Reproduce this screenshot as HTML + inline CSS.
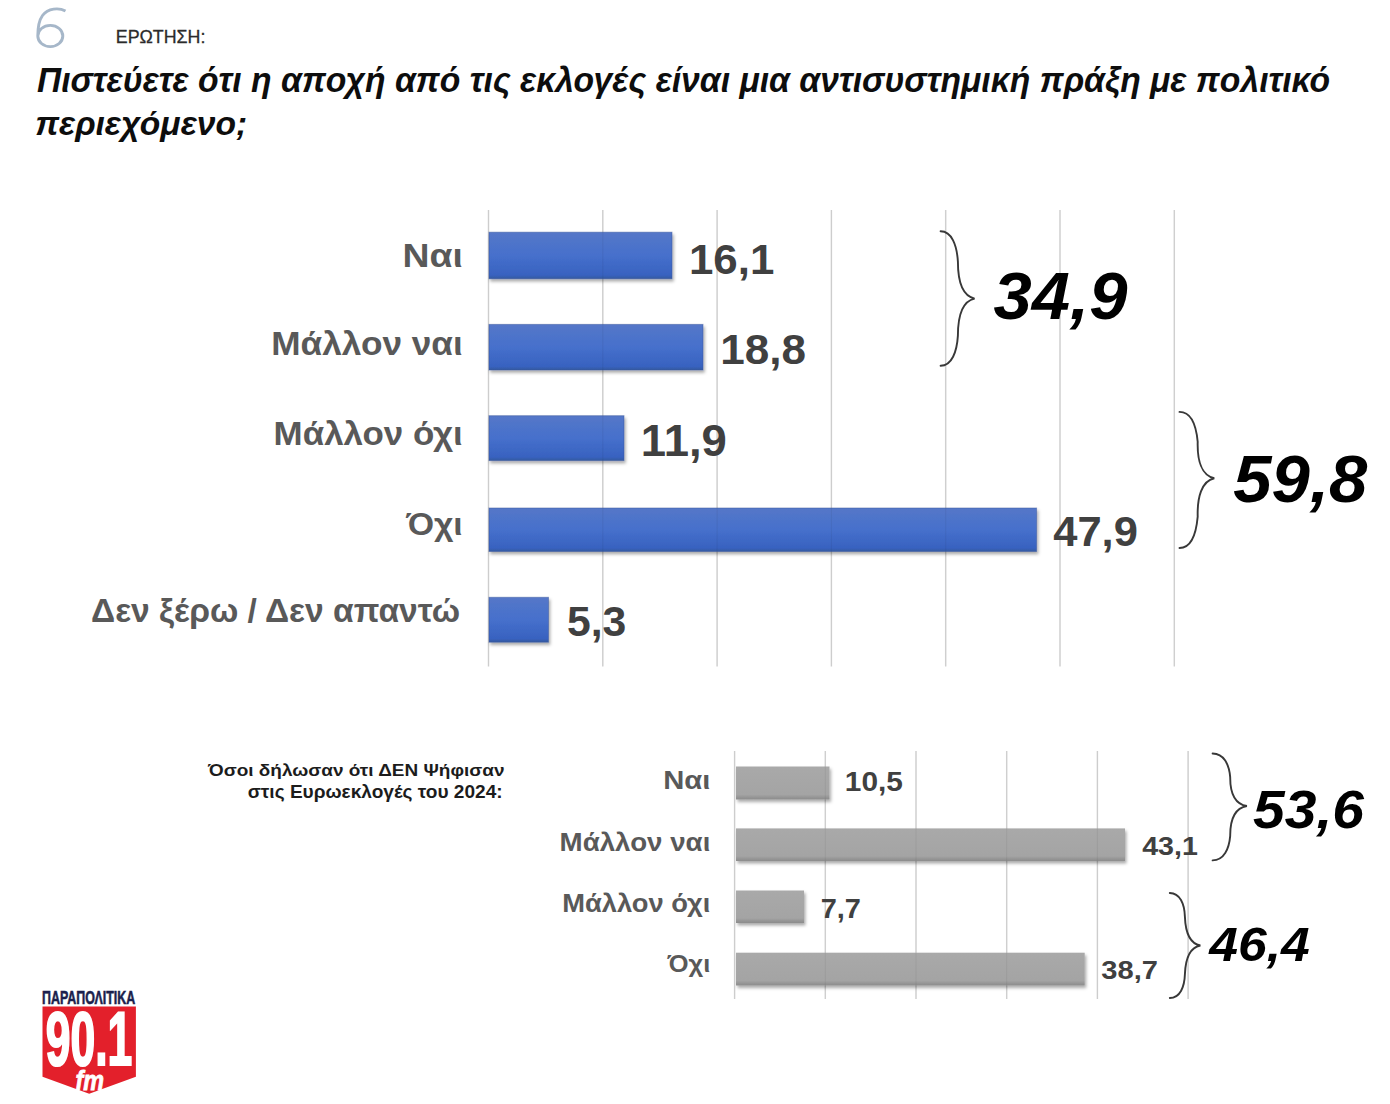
<!DOCTYPE html>
<html><head><meta charset="utf-8"><style>
html,body{margin:0;padding:0;background:#fff;width:1390px;height:1104px;overflow:hidden}
svg{display:block;font-family:"Liberation Sans",sans-serif}
</style></head><body>
<svg width="1390" height="1104" viewBox="0 0 1390 1104">
<defs>
<linearGradient id="gb" x1="0" y1="0" x2="0" y2="1">
<stop offset="0" stop-color="#5577c8"/><stop offset="0.5" stop-color="#4670cc"/><stop offset="0.92" stop-color="#3862c0"/><stop offset="1" stop-color="#34599f"/>
</linearGradient>
<linearGradient id="gg" x1="0" y1="0" x2="0" y2="1">
<stop offset="0" stop-color="#a9a9a9"/><stop offset="0.85" stop-color="#a4a4a4"/><stop offset="0.93" stop-color="#969696"/><stop offset="1" stop-color="#8c8c8c"/>
</linearGradient>
<filter id="sh" x="-5%" y="-30%" width="110%" height="170%">
<feDropShadow dx="1.5" dy="2.5" stdDeviation="1.8" flood-color="#000" flood-opacity="0.33"/>
</filter>
</defs>
<g stroke="#d9d9d9" stroke-width="1.5"><line x1="488.5" y1="210" x2="488.5" y2="666.5"/><line x1="602.8" y1="210" x2="602.8" y2="666.5"/><line x1="717.1" y1="210" x2="717.1" y2="666.5"/><line x1="831.4" y1="210" x2="831.4" y2="666.5"/><line x1="945.7" y1="210" x2="945.7" y2="666.5"/><line x1="1060.0" y1="210" x2="1060.0" y2="666.5"/><line x1="1174.3" y1="210" x2="1174.3" y2="666.5"/><line x1="734.6" y1="751" x2="734.6" y2="999"/><line x1="825.3" y1="751" x2="825.3" y2="999"/><line x1="916.0" y1="751" x2="916.0" y2="999"/><line x1="1006.7" y1="751" x2="1006.7" y2="999"/><line x1="1097.4" y1="751" x2="1097.4" y2="999"/><line x1="1188.1" y1="751" x2="1188.1" y2="999"/></g>
<g filter="url(#sh)"><rect x="489" y="232.2" width="183.0" height="46.6" fill="url(#gb)" stroke="#3d5a9e" stroke-opacity=".5" stroke-width="1"/><rect x="489" y="324.4" width="214.0" height="45.6" fill="url(#gb)" stroke="#3d5a9e" stroke-opacity=".5" stroke-width="1"/><rect x="489" y="415.7" width="135.0" height="44.9" fill="url(#gb)" stroke="#3d5a9e" stroke-opacity=".5" stroke-width="1"/><rect x="489" y="508" width="547.6" height="43.5" fill="url(#gb)" stroke="#3d5a9e" stroke-opacity=".5" stroke-width="1"/><rect x="489" y="597.3" width="59.5" height="44.9" fill="url(#gb)" stroke="#3d5a9e" stroke-opacity=".5" stroke-width="1"/><rect x="736" y="766.5" width="93.5" height="33.0" fill="url(#gg)"/><rect x="736" y="828.4" width="389.0" height="32.6" fill="url(#gg)"/><rect x="736" y="890.5" width="68.0" height="32.5" fill="url(#gg)"/><rect x="736" y="952.7" width="348.7" height="32.8" fill="url(#gg)"/></g>
<g stroke="#000" stroke-opacity="0.05" stroke-width="1.2"><line x1="488.5" y1="210" x2="488.5" y2="666.5"/><line x1="602.8" y1="210" x2="602.8" y2="666.5"/><line x1="717.1" y1="210" x2="717.1" y2="666.5"/><line x1="831.4" y1="210" x2="831.4" y2="666.5"/><line x1="945.7" y1="210" x2="945.7" y2="666.5"/><line x1="1060.0" y1="210" x2="1060.0" y2="666.5"/><line x1="1174.3" y1="210" x2="1174.3" y2="666.5"/><line x1="734.6" y1="751" x2="734.6" y2="999"/><line x1="825.3" y1="751" x2="825.3" y2="999"/><line x1="916.0" y1="751" x2="916.0" y2="999"/><line x1="1006.7" y1="751" x2="1006.7" y2="999"/><line x1="1097.4" y1="751" x2="1097.4" y2="999"/><line x1="1188.1" y1="751" x2="1188.1" y2="999"/></g>
<g fill="none" stroke="#383838" stroke-width="1.9" stroke-linecap="round"><path d="M940.6,231.3 C951.8,231.3 956.9,245.4 957.9,261.6 C957.9,279.8 962.0,295.9 974.6,298.6 C962.0,301.3 957.9,317.4 957.9,335.6 C956.9,351.7 951.8,365.8 940.6,365.8"/><path d="M1179.5,411.9 C1191.0,411.9 1196.2,425.8 1197.7,441.8 C1197.2,459.7 1201.4,475.6 1214.3,478.3 C1201.4,481.1 1197.2,497.8 1197.7,516.6 C1196.2,533.4 1191.0,548.0 1179.5,548.0"/><path d="M1212.6,753.5 C1223.9,753.5 1229.1,764.5 1230.2,777.1 C1230.1,791.3 1234.2,803.9 1246.9,806.0 C1234.2,808.2 1230.1,821.2 1230.2,835.9 C1229.1,849.0 1223.9,860.4 1212.6,860.4"/><path d="M1169.8,893.0 C1179.9,893.0 1184.5,904.0 1184.9,916.6 C1185.4,930.8 1189.1,943.4 1200.4,945.5 C1189.1,947.6 1185.4,960.2 1184.9,974.4 C1184.5,987.0 1179.9,998.0 1169.8,998.0"/></g>
<path d="M65.5,11 C59,7.5 48,8 42.5,15.5 C38.5,21 37.8,28.5 37.8,36 M37.8,36 A12.5,10.6 0 1 0 62.8,36 A12.5,10.6 0 1 0 37.8,36" fill="none" stroke="#a6b7c9" stroke-width="2.9"/>
<polygon points="42.5,1006.4 135.9,1006.4 135.9,1076.8 89.2,1093.8 42.5,1076.8" fill="#e3202b"/>
<text transform="translate(115.76,43.05) scale(0.9353,1)" font-size="19.06" font-weight="normal" font-style="normal" fill="#2b2b2b" stroke="#2b2b2b" stroke-width="0.3">ΕΡΩΤΗΣΗ:</text><text transform="translate(36.97,91.70) scale(0.9728,1)" font-size="34.64" font-weight="bold" font-style="italic" fill="#0d0d0d">Πιστεύετε ότι η αποχή από τις εκλογές είναι μια αντισυστημική πράξη με πολιτικό</text><text transform="translate(35.15,135.40) scale(0.9867,1)" font-size="34.07" font-weight="bold" font-style="italic" fill="#0d0d0d">περιεχόμενο;</text><text transform="translate(402.46,267.20) scale(1.1284,1)" font-size="33.14" font-weight="bold" font-style="normal" fill="#595959">Ναι</text><text transform="translate(271.30,355.00) scale(1.0758,1)" font-size="32.71" font-weight="bold" font-style="normal" fill="#595959">Μάλλον ναι</text><text transform="translate(273.62,445.10) scale(1.0714,1)" font-size="32.57" font-weight="bold" font-style="normal" fill="#595959">Μάλλον όχι</text><text transform="translate(406.13,534.50) scale(1.0636,1)" font-size="31.72" font-weight="bold" font-style="normal" fill="#595959">Όχι</text><text transform="translate(91.05,621.70) scale(1.0265,1)" font-size="32.71" font-weight="bold" font-style="normal" fill="#595959">Δεν ξέρω / Δεν απαντώ</text><text transform="translate(688.96,273.70) scale(1.0141,1)" font-size="43.24" font-weight="bold" font-style="normal" fill="#404040">16,1</text><text transform="translate(720.35,363.80) scale(1.0157,1)" font-size="43.38" font-weight="bold" font-style="normal" fill="#404040">18,8</text><text transform="translate(640.86,455.80) scale(1.0378,1)" font-size="43.80" font-weight="bold" font-style="normal" fill="#404040">11,9</text><text transform="translate(1053.20,545.90) scale(1.0130,1)" font-size="42.95" font-weight="bold" font-style="normal" fill="#404040">47,9</text><text transform="translate(566.93,636.00) scale(0.9839,1)" font-size="43.38" font-weight="bold" font-style="normal" fill="#404040">5,3</text><text transform="translate(993.50,319.45) scale(1.0221,1)" font-size="67.34" font-weight="bold" font-style="italic" fill="#000000">34,9</text><text transform="translate(1233.30,501.85) scale(1.0250,1)" font-size="67.20" font-weight="bold" font-style="italic" fill="#000000">59,8</text><text transform="translate(1253.00,828.45) scale(1.0478,1)" font-size="54.40" font-weight="bold" font-style="italic" fill="#000000">53,6</text><text transform="translate(1209.31,961.40) scale(1.0612,1)" font-size="48.64" font-weight="bold" font-style="italic" fill="#000000">46,4</text><text transform="translate(663.17,789.40) scale(1.1180,1)" font-size="26.17" font-weight="bold" font-style="normal" fill="#595959">Ναι</text><text transform="translate(559.57,850.50) scale(1.0648,1)" font-size="26.03" font-weight="bold" font-style="normal" fill="#595959">Μάλλον ναι</text><text transform="translate(562.29,911.60) scale(1.0438,1)" font-size="26.17" font-weight="bold" font-style="normal" fill="#595959">Μάλλον όχι</text><text transform="translate(667.50,971.70) scale(1.0741,1)" font-size="23.75" font-weight="bold" font-style="normal" fill="#595959">Όχι</text><text transform="translate(844.83,791.10) scale(1.0656,1)" font-size="28.02" font-weight="bold" font-style="normal" fill="#404040">10,5</text><text transform="translate(1142.20,855.00) scale(1.0939,1)" font-size="26.17" font-weight="bold" font-style="normal" fill="#404040">43,1</text><text transform="translate(820.69,917.80) scale(1.0667,1)" font-size="27.16" font-weight="bold" font-style="normal" fill="#404040">7,7</text><text transform="translate(1101.35,978.50) scale(1.1180,1)" font-size="26.03" font-weight="bold" font-style="normal" fill="#404040">38,7</text><text transform="translate(208.00,775.80) scale(1.1132,1)" font-size="17.07" font-weight="bold" font-style="normal" fill="#1c1c1c">Όσοι δήλωσαν ότι ΔΕΝ Ψήφισαν</text><text transform="translate(247.80,798.30) scale(1.0652,1)" font-size="17.92" font-weight="bold" font-style="normal" fill="#1c1c1c">στις Ευρωεκλογές του 2024:</text><text transform="translate(42.02,1003.70) scale(0.6512,1)" font-size="19.06" font-weight="bold" font-style="normal" fill="#1b1f4d" stroke="#1b1f4d" stroke-width="0.6">ΠΑΡΑΠΟΛΙΤΙΚΑ</text><text transform="translate(45.71,1064.90) scale(0.5815,1)" font-size="76.52" font-weight="bold" font-style="normal" fill="#ffffff" stroke="#fff" stroke-width="2.2">90.1</text><text transform="translate(75.47,1089.60) scale(0.8700,1)" font-size="26.83" font-weight="bold" font-style="italic" fill="#ffffff" stroke="#fff" stroke-width="0.8">fm</text>
</svg>
</body></html>
